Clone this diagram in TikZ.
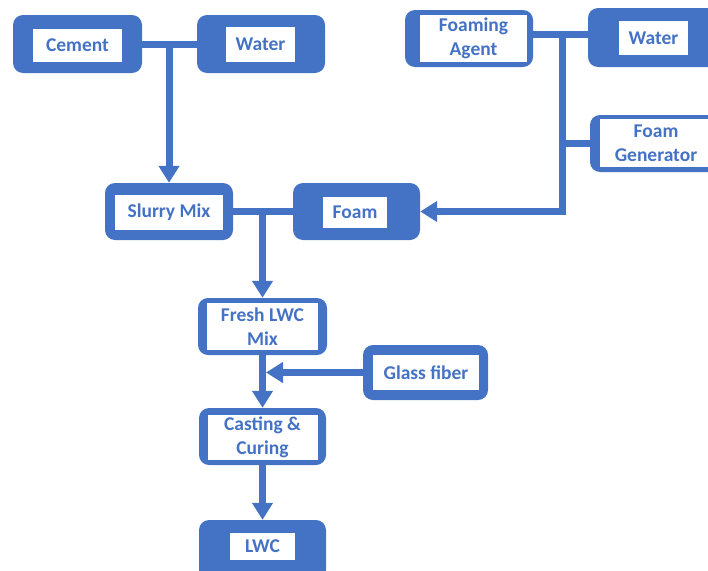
\documentclass[tikz,border=0pt]{standalone}
\usepackage{fontspec}
\setmainfont{Carlito}
\usetikzlibrary{arrows.meta,calc,positioning}
\definecolor{lwcblue}{HTML}{4472C4}

\begin{document}
\begin{tikzpicture}[x=1pt,y=-1pt,
    wh/.style 2 args={minimum width=#1pt,minimum height=#2pt},
    outbox/.style={fill=lwcblue,rounded corners=10pt,inner sep=0pt},
    inbox/.style={fill=white,inner sep=0pt,align=center,text=lwcblue,
                  font=\fontsize{19.5}{23.5}\selectfont\bfseries},
    flow/.style={draw=lwcblue,line width=7pt},
    flowto/.style={flow,-{Triangle[width=20pt,length=17pt]}}]
    \useasboundingbox (0,0) rectangle (708,570);
    \clip (0,0) rectangle (708,570);
    % outer boxes
    \node[outbox,wh={129}{58}] (cement)  at (77.5,44)    {};
    \node[outbox,wh={128}{58}] (water)   at (261,44)     {};
    \node[outbox,wh={128}{57}] (foaming) at (469,38.5)   {};
    \node[outbox,wh={132}{59}] (waterR)  at (654,37.5)   {};
    \node[outbox,wh={132}{57}] (foamgen) at (656,143.5)  {};
    \node[outbox,wh={128}{57}] (slurry)  at (169,211.5)  {};
    \node[outbox,wh={127}{57}] (foam)    at (356.5,211.5){};
    \node[outbox,wh={129}{57}] (fresh)   at (262.5,326.5){};
    \node[outbox,wh={125}{55}] (glass)   at (425.5,372.5){};
    \node[outbox,wh={127}{57}] (casting) at (262.5,436.5){};
    \node[outbox,wh={127}{60}] (lwc)     at (262.5,550)  {};
    % labels
    \node[inbox,wh={89}{33}]  (cement-in)  at (77.5,45.5)  {Cement};
    \node[inbox,wh={69}{35}]  (water-in)   at (260.5,44.5) {Water};
    \node[inbox,wh={107}{47}] (foaming-in) at (473.5,38.5) {Foaming\\Agent};
    \node[inbox,wh={69}{34}]  (waterR-in)  at (653.5,38)   {Water};
    \node[inbox,wh={112}{48}] (foamgen-in) at (656,143)    {Foam\\Generator};
    \node[inbox,wh={108}{35}] (slurry-in)  at (169,212.5)  {Slurry Mix};
    \node[inbox,wh={64}{31}]  (foam-in)    at (355,212.5)  {Foam};
    \node[inbox,wh={111}{47}] (fresh-in)   at (262.5,326.5){Fresh LWC\\Mix};
    \node[inbox,wh={106}{35}] (glass-in)   at (426,372.5)  {Glass fiber};
    \node[inbox,wh={110}{45}] (casting-in) at (262.5,437.5){Casting \&\\Curing};
    \node[inbox,wh={65}{27}]  (lwc-in)     at (262.5,546.5){LWC};
    % connectors
    \coordinate (fjoin) at (562,34);
    \draw[flow] (cement.east) -- (water.west);
    \draw[flowto] (cement.east -| slurry.north) -- (slurry.north);
    \draw[flow] (foaming.east |- fjoin) -- (waterR.west |- fjoin);
    \draw[flow] (foamgen.west) -- (foamgen.west -| fjoin);
    \draw[flowto] (fjoin) |- (foam.east);
    \draw[flow] (slurry.east) -- (foam.west);
    \draw[flowto] (slurry.east -| fresh.north) -- (fresh.north);
    \draw[flowto] (fresh.south) -- (casting.north);
    \draw[flowto,shorten >=3.5pt] (glass.west) -- (glass.west -| fresh.south);
    \draw[flowto] (casting.south) -- (lwc.north);
\end{tikzpicture}
\end{document}
